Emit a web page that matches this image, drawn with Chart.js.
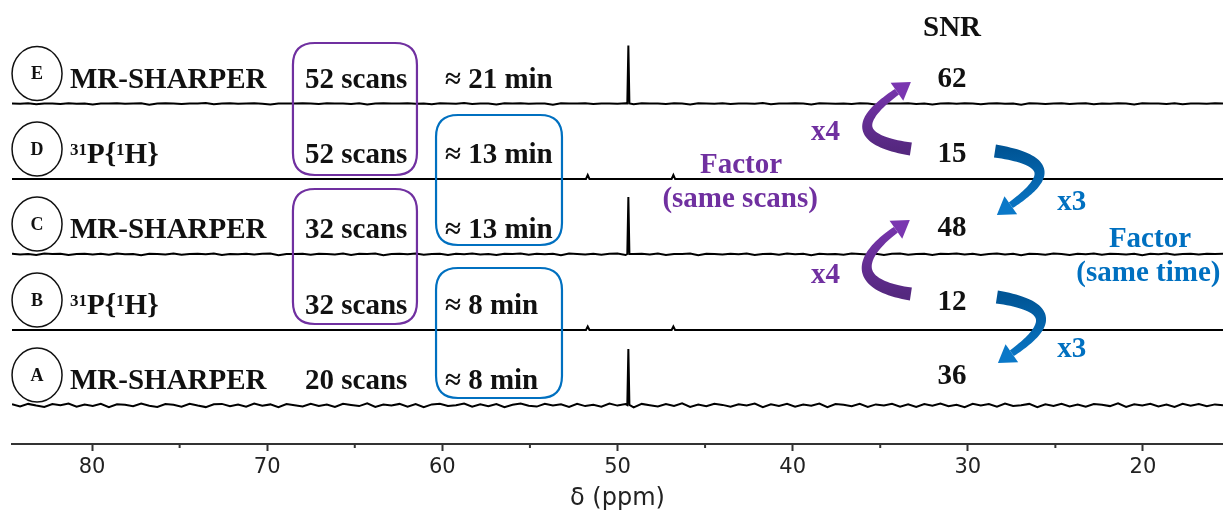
<!DOCTYPE html>
<html>
<head>
<meta charset="utf-8">
<title>MR-SHARPER vs 31P{1H}</title>
<script src="https://cdn.jsdelivr.net/npm/chart.js@4.4.1/dist/chart.umd.min.js"></script>
<style>
  html, body { margin: 0; padding: 0; background: #fff; }
</style>
</head>
<body>
<canvas id="myChart" width="1223" height="513"></canvas>
<script>
// chemical shift axis (reversed, ppm)
var ppmLeft = 84.57;
var ppmRight = 15.43;
var majorTicks = [80, 70, 60, 50, 40, 30, 20];
var minorTicks = [75, 65, 55, 45, 35, 25];

// rows, top to bottom
var rowLetters = ["E", "D", "C", "B", "A"];
var rowSharper = [true, false, true, false, true];
var rowScans = ["52 scans", "52 scans", "32 scans", "32 scans", "20 scans"];
var rowTimes = ["≈ 21 min", "≈ 13 min", "≈ 13 min", "≈ 8 min", "≈ 8 min"];
var snrValues = [62, 15, 48, 12, 36];
var rowBaselines = [340.5, 265, 190, 114, 39];

// peaks per row as [ppm, height]
var rowPeaks = [
    [[49.38, 58]],
    [[51.70, 4], [46.81, 4]],
    [[49.38, 57]],
    [[51.70, 3.5], [46.81, 3.5]],
    [[49.38, 56]]
];

// baseline noise, left to right
var noiseE = [
    0, -0.3, 0.2, -0.8, 0.1, 0, -0.5, 0.3, -0.2, 0.1,
    -1.0, 0.1, 0, 0.3, -0.3, -0.1, 0.2, -1.2, 0.1, 0.3,
    0, -0.4, 0.1, -0.1, 0.4, -0.7, 0, 0.2, -0.3, 0.1,
    0.3, -0.2, -0.9, 0.1, 0.1, -0.1, 0.3, 0, -0.6, 0.2,
    -0.1, 0.1, -0.4, 0.3, -1.1, 0.1, 0.2, -0.1, 0, 0.3,
    -0.3, 0.1, -0.7, 0.2, 0, -0.2, 0.4, -0.5, 0.1, 0.1,
    -0.9, 0.2, -0.1, 0.3, -0.3, 0, 0.1, -1.2, 0.2, 0.1,
    -0.1, 0.3, -0.5, 0.1, 0, -0.3, 0.2, -0.8, 0.3, -0.1,
    0.1, -0.4, 0.3, 0, -1.0, 0.2, 0.1, -0.2, 0.3, -0.6,
    0.1, 0, -0.3, 0.4, -0.7, 0.1, -0.1, 0.2, 0, -1.1,
    0.3, 0.1, -0.3, 0.1, -0.5, 0.3, 0, -0.9, 0.2, -0.1,
    0.1, 0.3, -0.5, 0.1, -0.9, 0, 0.2, -0.3, 0.3, -0.1,
    -0.7, 0.1, 0.3, -0.2, 0, -1.2, 0.2, 0.1, -0.4, 0.1,
    0.3, -0.6, 0, 0.2, -0.8, 0.1, -0.3, 0.3, 0.1, -1.0,
    0.2, -0.1, 0.1, -0.5, 0.3, -0.7, 0, 0.1, -0.2, 0.3,
    0
];
var noiseC = [
    0.3, -0.5, 0.1, -0.9, 0.4, -0.1, 0.2, -1.1, 0.1, 0.3,
    -0.4, 0.2, -0.7, 0.5, -0.3, 0.1, -1.3, 0.3, 0, -0.5,
    0.4, -0.8, 0.1, 0.3, -0.3, 0.5, -1.0, 0.1, -0.2, 0.3,
    -0.6, 0.2, 0.5, -1.2, 0.1, -0.1, 0.3, -0.7, 0.3, 0,
    -0.4, 0.5, -0.9, 0.2, -0.1, 0.4, -1.2, 0.1, 0.3, -0.3,
    0.5, -0.7, 0.1, 0.3, -1.0, 0.2, -0.3, 0.4, -0.5, 0.1,
    -1.1, 0.3, 0, 0.5, -0.8, 0.2, -0.2, 0.3, -1.3, 0.4,
    0.1, -0.5, 0.3, -0.7, 0.2, 0.5, -1.0, 0, 0.3, -0.4,
    0.4, -0.9, 0.1, -0.1, 0.5, -1.2, 0.3, 0.1, -0.6, 0.3,
    -0.3, 0.5, -1.0, 0.1, 0.2, -0.7, 0.4, -0.2, 0.3, -1.2,
    0.3, -0.3, 0.1, -0.8, 0.5, 0, -0.5, 0.3, -1.0, 0.2,
    0.4, -0.7, 0.1, 0.3, -1.1, 0.2, -0.1, 0.5, -0.6, 0.3,
    -0.9, 0.1, 0.4, -0.4, 0.2, -1.2, 0.3, 0, -0.7, 0.5,
    0.1, -1.0, 0.3, -0.2, 0.5, -0.8, 0.2, 0.1, -0.5, 0.3,
    -1.3, 0.3, -0.3, 0.4, -0.7, 0.1, 0.3, -0.5, 0.2, -0.1,
    0.3
];
var noiseA = [
    0.8, -1.4, 1.1, -0.6, -2.0, 0.9, -0.3, 1.4, -1.7, 0.5,
    -0.9, 1.2, -2.2, 0.7, 0.2, -1.3, 1.5, -0.8, -1.9, 1.0,
    0.3, -1.6, 1.3, -0.5, -2.1, 0.8, 1.1, -1.2, 0.4, -1.8,
    1.4, -0.7, 0.6, -2.3, 1.0, -0.2, -1.5, 1.2, -0.9, 0.5,
    -2.0, 1.3, 0.1, -1.1, 1.6, -1.9, 0.4, -0.6, 1.1, -1.7,
    0.9, -2.2, 0.6, 1.2, -1.0, -0.3, 1.5, -1.8, 0.7, -1.3,
    1.0, -2.1, 0.3, 1.4, -0.8, -1.6, 1.2, -0.4, 0.8, -2.0,
    1.3, -1.1, 0.2, -1.7, 1.5, -0.6, 0.9, -2.3, 1.1, -0.2,
    -1.4, 1.0, -0.9, 1.6, -2.0, 0.5, -1.2, 1.3, 0.1, -1.8,
    0.8, -0.5, 1.4, -2.1, 0.7, -1.0, 1.2, -1.6, 0.4, -0.8,
    1.5, -2.2, 0.9, 0.2, -1.3, 1.1, -1.9, 0.6, -0.4, 1.3,
    -1.7, 0.8, -2.0, 1.0, -0.7, 1.4, -1.2, 0.3, -2.1, 1.2,
    -0.5, 0.9, -1.6, 1.5, -1.0, -0.3, 1.1, -2.2, 0.7, -0.9,
    1.3, -1.4, 0.5, -1.8, 1.0, 0.2, -1.1, 1.6, -2.0, 0.8,
    -0.6, 1.2, -1.5, 0.4, -1.9, 1.1, -0.8, 0.9, -1.3, 0.6,
    -0.2
];
var rowNoise = [noiseE, null, noiseC, null, noiseA];

// annotation layout (ppm / y units)
var letterPpm = 83.14;
var methodPpm = 81.26;
var scansPpm = 67.84;
var timePpm = 59.85;
var snrPpm = 30.90;
var snrHeaderY = 408;
var snrY = [357, 282, 208, 134, 60];
var scanBoxes = [[68.53, 61.45, 401, 269], [68.53, 61.45, 255, 120]];
var timeBoxes = [[60.36, 53.17, 329, 199], [60.36, 53.17, 176, 46]];
var scanArrows = [[33.25, 295, 33.25, 362], [33.25, 150, 33.31, 224]];
var timeArrows = [[28.45, 293, 28.34, 229], [28.34, 147, 28.28, 81]];
var scanFactorLabels = [["x4", 38.13, 304], ["x4", 38.13, 161], ["Factor", 42.95, 271], ["(same scans)", 43.0, 237]];
var timeFactorLabels = [["x3", 24.06, 234], ["x3", 24.06, 87], ["Factor", 19.60, 197], ["(same time)", 19.69, 163]];

var PURPLE = "#7030A0";
var BLUE = "#0070C0";
var SERIF = "'Liberation Serif', 'Times New Roman', serif";

// builds one spectrum: noisy baseline plus the peaks on top
function buildTrace(row) {
    var pts = [];
    var base = rowBaselines[row];
    var noise = rowNoise[row];
    var peaks = rowPeaks[row];
    if (noise) {
        var step = (ppmLeft - ppmRight) / (noise.length - 1);
        for (var i = 0; i < noise.length; i++) {
            var x = ppmLeft - i * step;
            var nearPeak = peaks.some(function (p) { return Math.abs(p[0] - x) < 0.12; });
            if (!nearPeak) pts.push({ x: x, y: base + noise[i] });
        }
    } else {
        pts.push({ x: ppmLeft, y: base });
        pts.push({ x: ppmRight, y: base });
    }
    peaks.forEach(function (p) {
        var hw = p[1] > 10 ? 0.06 : 0.1;
        pts.push({ x: p[0] + hw, y: base });
        pts.push({ x: p[0], y: base + p[1] });
        pts.push({ x: p[0] - hw, y: base });
    });
    pts.sort(function (a, b) { return b.x - a.x; });
    return pts;
}

var datasets = [];
for (var r = 0; r < rowLetters.length; r++) {
    datasets.push({
        label: rowLetters[r],
        data: buildTrace(r),
        borderColor: "#000",
        borderWidth: 2,
        pointRadius: 0,
        tension: 0,
        fill: false
    });
}

function roundRect(ctx, x0, y0, x1, y1, rad) {
    ctx.beginPath();
    ctx.moveTo(x0 + rad, y0);
    ctx.lineTo(x1 - rad, y0);
    ctx.quadraticCurveTo(x1, y0, x1, y0 + rad);
    ctx.lineTo(x1, y1 - rad);
    ctx.quadraticCurveTo(x1, y1, x1 - rad, y1);
    ctx.lineTo(x0 + rad, y1);
    ctx.quadraticCurveTo(x0, y1, x0, y1 - rad);
    ctx.lineTo(x0, y0 + rad);
    ctx.quadraticCurveTo(x0, y0, x0 + rad, y0);
    ctx.closePath();
}

// tapered curved arrow, side -1 bulges left, +1 bulges right
function curvedArrow(ctx, tail, tip, side, darkCol, lightCol) {
    var up = tip.y < tail.y ? -1 : 1;
    var ang = 35 * Math.PI / 180;
    var dir = { x: -side * Math.cos(ang), y: up * Math.sin(ang) };
    var headLen = 17, headHalf = 11;
    var p0 = tail;
    var p3 = { x: tip.x - dir.x * headLen, y: tip.y - dir.y * headLen };
    var p1 = { x: p0.x + side * 65, y: p0.y + up * 10 };
    var p2 = { x: p3.x - dir.x * 40, y: p3.y - dir.y * 40 };
    var left = [], right = [];
    var n = 48;
    for (var i = 0; i <= n; i++) {
        var t = i / n, u = 1 - t;
        var bx = u * u * u * p0.x + 3 * u * u * t * p1.x + 3 * u * t * t * p2.x + t * t * t * p3.x;
        var by = u * u * u * p0.y + 3 * u * u * t * p1.y + 3 * u * t * t * p2.y + t * t * t * p3.y;
        var dx = 3 * u * u * (p1.x - p0.x) + 6 * u * t * (p2.x - p1.x) + 3 * t * t * (p3.x - p2.x);
        var dy = 3 * u * u * (p1.y - p0.y) + 6 * u * t * (p2.y - p1.y) + 3 * t * t * (p3.y - p2.y);
        var len = Math.sqrt(dx * dx + dy * dy) || 1;
        var nx = -dy / len, ny = dx / len;
        var w = (13 - 6 * t) / 2;
        left.push({ x: bx + nx * w, y: by + ny * w });
        right.push({ x: bx - nx * w, y: by - ny * w });
    }
    var grad = ctx.createLinearGradient(tail.x, tail.y, tip.x, tip.y);
    grad.addColorStop(0, darkCol);
    grad.addColorStop(1, lightCol);
    ctx.fillStyle = grad;
    ctx.beginPath();
    ctx.moveTo(left[0].x, left[0].y);
    for (var j = 1; j < left.length; j++) ctx.lineTo(left[j].x, left[j].y);
    for (var k = right.length - 1; k >= 0; k--) ctx.lineTo(right[k].x, right[k].y);
    ctx.closePath();
    ctx.fill();
    // arrow head
    var hx = -dir.y, hy = dir.x;
    ctx.beginPath();
    ctx.moveTo(p3.x + hx * headHalf, p3.y + hy * headHalf);
    ctx.lineTo(tip.x, tip.y);
    ctx.lineTo(p3.x - hx * headHalf, p3.y - hy * headHalf);
    ctx.closePath();
    ctx.fillStyle = lightCol;
    ctx.fill();
}

var annotate = {
    id: "annotate",
    afterDatasetsDraw: function (chart) {
        var ctx = chart.ctx;
        var xs = chart.scales.x, ys = chart.scales.y;
        var X = function (v) { return xs.getPixelForValue(v); };
        var Y = function (v) { return ys.getPixelForValue(v); };
        ctx.save();

        // minor ticks
        ctx.strokeStyle = "#333";
        ctx.lineWidth = 2;
        minorTicks.forEach(function (v) {
            ctx.beginPath();
            ctx.moveTo(X(v), chart.chartArea.bottom);
            ctx.lineTo(X(v), chart.chartArea.bottom + 4);
            ctx.stroke();
        });

        // boxes grouping equal scans / equal time
        ctx.lineWidth = 2.2;
        ctx.strokeStyle = PURPLE;
        scanBoxes.forEach(function (b) {
            roundRect(ctx, X(b[0]), Y(b[2]), X(b[1]), Y(b[3]), 22);
            ctx.stroke();
        });
        ctx.strokeStyle = BLUE;
        timeBoxes.forEach(function (b) {
            roundRect(ctx, X(b[0]), Y(b[2]), X(b[1]), Y(b[3]), 22);
            ctx.stroke();
        });

        for (var r = 0; r < rowLetters.length; r++) {
            var base = rowBaselines[r];
            var textY = Y(base + 16);
            // circled letter
            ctx.strokeStyle = "#111";
            ctx.lineWidth = 1.5;
            ctx.beginPath();
            ctx.ellipse(X(letterPpm), Y(base + 30), 25, 27, 0, 0, Math.PI * 2);
            ctx.stroke();
            ctx.fillStyle = "#111";
            ctx.font = "bold 18px " + SERIF;
            ctx.textAlign = "center";
            ctx.textBaseline = "middle";
            ctx.fillText(rowLetters[r], X(letterPpm), Y(base + 30) + 1);

            // method name
            ctx.textAlign = "left";
            ctx.textBaseline = "alphabetic";
            var mx = X(methodPpm);
            if (rowSharper[r]) {
                ctx.font = "bold 29px " + SERIF;
                ctx.fillText("MR-SHARPER", mx, textY);
            } else {
                var parts = [["31", true], ["P{", false], ["1", true], ["H}", false]];
                parts.forEach(function (p) {
                    ctx.font = p[1] ? "bold 17px " + SERIF : "bold 29px " + SERIF;
                    ctx.fillText(p[0], mx, p[1] ? textY - 8 : textY);
                    mx += ctx.measureText(p[0]).width;
                });
            }

            ctx.font = "bold 29px " + SERIF;
            ctx.fillText(rowScans[r], X(scansPpm), textY);
            ctx.fillText(rowTimes[r], X(timePpm), textY);

            ctx.textAlign = "center";
            ctx.fillText(String(snrValues[r]), X(snrPpm), Y(snrY[r]));
        }
        ctx.fillText("SNR", X(snrPpm), Y(snrHeaderY));

        // factors
        ctx.fillStyle = PURPLE;
        scanFactorLabels.forEach(function (l) { ctx.fillText(l[0], X(l[1]), Y(l[2])); });
        ctx.fillStyle = BLUE;
        timeFactorLabels.forEach(function (l) { ctx.fillText(l[0], X(l[1]), Y(l[2])); });

        scanArrows.forEach(function (a) {
            curvedArrow(ctx, { x: X(a[0]), y: Y(a[1]) }, { x: X(a[2]), y: Y(a[3]) }, -1, "#55287f", "#7a36b0");
        });
        timeArrows.forEach(function (a) {
            curvedArrow(ctx, { x: X(a[0]), y: Y(a[1]) }, { x: X(a[2]), y: Y(a[3]) }, 1, "#005596", "#0a78c8");
        });
        ctx.restore();
    }
};

var ctx = document.getElementById("myChart").getContext("2d");
var myChart = new Chart(ctx, {
    type: "line",
    data: { datasets: datasets },
    plugins: [annotate],
    options: {
        responsive: false,
        animation: false,
        events: [],
        layout: { padding: { left: 12, right: 0, top: 10, bottom: 0 } },
        plugins: { legend: { display: false }, tooltip: { enabled: false } },
        scales: {
            x: {
                type: "linear",
                reverse: true,
                min: ppmRight,
                max: ppmLeft,
                afterBuildTicks: function (scale) {
                    scale.ticks = majorTicks.map(function (v) { return { value: v }; });
                },
                border: { display: true, color: "#333", width: 2 },
                grid: { display: true, drawOnChartArea: false, drawTicks: true, tickLength: 7, tickWidth: 2, tickColor: "#333" },
                ticks: {
                    autoSkip: false,
                    maxRotation: 0,
                    padding: 4,
                    color: "#222",
                    font: { family: "'DejaVu Sans'", size: 21 }
                },
                title: {
                    display: true,
                    text: "δ (ppm)",
                    color: "#222",
                    padding: { top: 0, bottom: 0 },
                    font: { family: "'DejaVu Sans'", size: 24 }
                }
            },
            y: {
                display: false,
                min: 0,
                max: 434
            }
        }
    }
});
</script>
</body>
</html>
